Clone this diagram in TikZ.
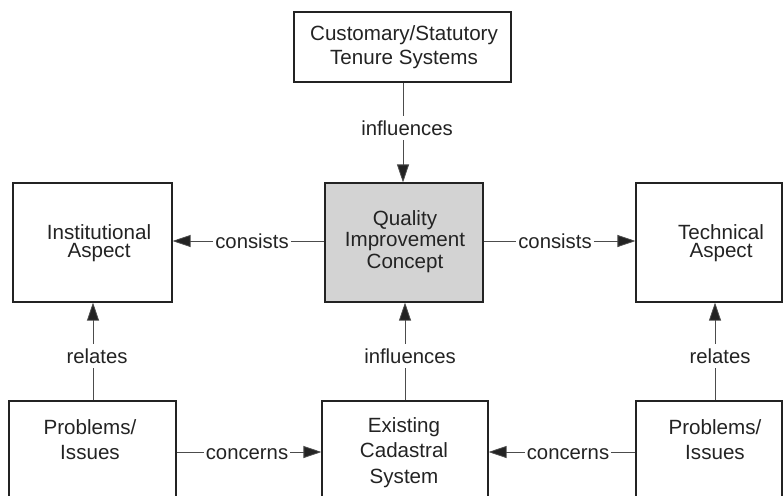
\documentclass[tikz,border=0pt]{standalone}
\usepackage{fontspec}
\setmainfont{Liberation Sans}
\usetikzlibrary{arrows.meta}
\definecolor{boxgray}{RGB}{211,211,211}
\definecolor{ink}{RGB}{35,35,35}
\begin{document}
\begin{tikzpicture}[x=1pt,y=-1pt,
  box/.style={draw=ink, line width=1.1pt, inner sep=0pt},
  txt/.style={align=center, font=\fontsize{20.6}{#1}\selectfont, text=ink, inner sep=0pt},
  lbl/.style={fill=white, font=\fontsize{20.3}{24}\selectfont, text=ink, inner xsep=2pt, inner ysep=5pt, text height=14.5pt, text depth=0pt},
  conn/.style={draw=black!70, line width=0.8pt},
  arr/.style={conn, -{Triangle[length=18pt,width=12pt,fill=ink]}}
]
\useasboundingbox (0,0) rectangle (783,495);
\clip (0,0) rectangle (783,495);

% boxes
\node[box, minimum width=217pt, minimum height=70pt] (top) at (402.5,47) {};
\node[box, fill=boxgray, minimum width=158pt, minimum height=119pt] (cen) at (404,242.5) {};
\node[box, minimum width=159pt, minimum height=119pt] (inst) at (92.5,242.5) {};
\node[box, minimum width=146pt, minimum height=119pt] (tech) at (709,242.5) {};
\node[box, minimum width=167pt, minimum height=140pt] (prob1) at (92.5,471) {};
\node[box, minimum width=166pt, minimum height=140pt] (exist) at (405,471) {};
\node[box, minimum width=146pt, minimum height=140pt] (prob2) at (709,471) {};

% texts
\node[txt=24] (ttop) at (404,47) {Customary/Statutory\\Tenure Systems};
\node[txt=21.5] (tcen) at (405,241.5) {Quality\\Improvement\\Concept};
\node[txt=18.5] (tinst) at (99,243) {Institutional\\Aspect};
\node[txt=18.5] (ttech) at (721,243) {Technical\\Aspect};
\node[txt=25] (tprob1) at (90,440) {Problems/\\Issues};
\node[txt=25] (tprob2) at (715,440) {Problems/\\Issues};
\node[txt=25.5] (texist) at (404,452.5) {Existing\\Cadastral\\System};

% top influences
\coordinate (v1) at (403,128);
\node[lbl] (l1) at (407,128) {influences};
\draw[conn] (top.south -| v1) -- (l1.north -| v1);
\draw[arr] (l1.south -| v1) -- (cen.north -| v1);

% consists left
\node[lbl] (l2) at (252,241) {consists};
\draw[conn] (cen.west |- l2) -- (l2.east);
\draw[arr] (l2.west) -- (inst.east |- l2);

% consists right
\node[lbl] (l3) at (555,241) {consists};
\draw[conn] (cen.east |- l3) -- (l3.west);
\draw[arr] (l3.east) -- (tech.west |- l3);

% center influences
\coordinate (v4) at (405,356);
\node[lbl] (l4) at (410,356) {influences};
\draw[conn] (exist.north -| v4) -- (l4.south -| v4);
\draw[arr] (l4.north -| v4) -- (cen.south -| v4);

% relates left
\coordinate (v5) at (93,356);
\node[lbl] (l5) at (97,356) {relates};
\draw[conn] (prob1.north -| v5) -- (l5.south -| v5);
\draw[arr] (l5.north -| v5) -- (inst.south -| v5);

% relates right
\coordinate (v6) at (715,356);
\node[lbl] (l6) at (720,356) {relates};
\draw[conn] (prob2.north -| v6) -- (l6.south -| v6);
\draw[arr] (l6.north -| v6) -- (tech.south -| v6);

% concerns left
\node[lbl] (l7) at (247,452) {concerns};
\draw[conn] (prob1.east |- l7) -- (l7.west);
\draw[arr] (l7.east) -- (exist.west |- l7);

% concerns right
\node[lbl] (l8) at (568,452) {concerns};
\draw[conn] (prob2.west |- l8) -- (l8.east);
\draw[arr] (l8.west) -- (exist.east |- l8);
\end{tikzpicture}
\end{document}
